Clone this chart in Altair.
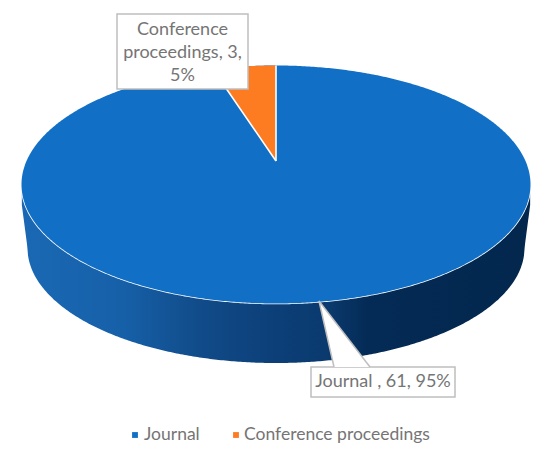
import numpy as np
import pandas as pd
import altair as alt

categories = ["Journal ", "Conference proceedings"]
legend_names = ["Journal", "Conference proceedings"]
counts = [61, 3]
shares = [95, 5]
colors = ["#1170C6", "#FD7C22"]

FONT = "Lato"
GREY = "#757575"

# page-pixel scales: data units equal pixels of the picture
xs = alt.Scale(domain=[8, 542], range=[0, 534], nice=False, zero=False)
ys = alt.Scale(domain=[8, 446], range=[0, 438], nice=False, zero=False)


def X(f="x"):
    return alt.X(f"{f}:Q", scale=xs, axis=None)


def Y(f="y"):
    return alt.Y(f"{f}:Q", scale=ys, axis=None)


# pie geometry
cx, cy, a, b = 276.0, 184.5, 254.5, 119.0      # top face
ax_low, cy_low, b_low = 248.5, 248.0, 115.0    # lower rim
apex = (276.0, 161.0)
edge_x = 213.0


def top_upper(x):
    return cy - b * np.sqrt(np.clip(1 - ((x - cx) / a) ** 2, 0, 1))


def top_lower(x):
    return cy + b * np.sqrt(np.clip(1 - ((x - cx) / a) ** 2, 0, 1))


def low_lower(x):
    inside = np.abs(x - cx) <= ax_low
    base = cy_low + b_low * np.sqrt(np.clip(1 - ((x - cx) / ax_low) ** 2, 0, 1))
    # outer flanks of the wall
    flank = cy + 18 + (np.abs(np.abs(x - cx) - a) / (a - ax_low)) * (cy_low - cy - 18)
    return np.where(inside, base, flank)


tt = np.linspace(-np.pi, 0, 361)
xe = cx + a * np.cos(tt)
face = pd.DataFrame({"x": xe, "y": top_upper(xe), "y2": top_lower(xe)})
wall_x = xe[(xe >= cx - a + 0.3) & (xe <= cx + a - 0.3)]
wall = pd.DataFrame({"x": wall_x, "y": top_lower(wall_x), "y2": low_lower(wall_x)})
rim = pd.DataFrame({"x": xe, "y": top_lower(xe)})

wx = np.linspace(edge_x, cx, 60)
edge_y = float(top_upper(np.array([edge_x]))[0])
wline = apex[1] + (wx - apex[0]) * (edge_y - apex[1]) / (edge_x - apex[0])
wedge = pd.DataFrame({"x": wx, "y": top_upper(wx), "y2": wline})

wall_fill = alt.Gradient(
    gradient="linear", x1=0, x2=1, y1=0, y2=0,
    stops=[
        alt.GradientStop(offset=0.0, color="#1A68B4"),
        alt.GradientStop(offset=0.2, color="#1660A8"),
        alt.GradientStop(offset=0.35, color="#114B89"),
        alt.GradientStop(offset=0.5, color="#0C3F78"),
        alt.GradientStop(offset=0.6, color="#0A3A6E"),
        alt.GradientStop(offset=0.68, color="#042B56"),
        alt.GradientStop(offset=1.0, color="#03274D"),
    ],
)

wall_mark = alt.Chart(wall).mark_area(fill=wall_fill).encode(x=X(), y=Y(), y2="y2:Q")
face_mark = alt.Chart(face).mark_area(color=colors[0]).encode(x=X(), y=Y(), y2="y2:Q")
wedge_mark = alt.Chart(wedge).mark_area(color=colors[1]).encode(x=X(), y=Y(), y2="y2:Q")
rim_mark = alt.Chart(rim).mark_line(color="white", strokeWidth=1.6).encode(x=X(), y=Y())

slice_edges = pd.DataFrame({
    "x": [apex[0], apex[0]], "y": [apex[1], apex[1]],
    "x2": [edge_x, cx], "y2": [edge_y, cy - b],
})
edge_mark = alt.Chart(slice_edges).mark_rule(color="white", strokeWidth=1.6).encode(
    x=X(), y=Y(), x2="x2:Q", y2="y2:Q"
)

# callouts
boxes = pd.DataFrame({"x": [117, 311], "x2": [248, 455], "y": [14, 367], "y2": [89, 397]})
box_mark = alt.Chart(boxes).mark_rect(fill="white", stroke="#BFBFBF", strokeWidth=1.5).encode(
    x=X(), x2="x2:Q", y=Y(), y2="y2:Q"
)

tip = (319.0, 301.0)
base_l, base_r, base_y = 334.0, 370.0, 367.0
px = np.array([tip[0], base_l, base_r])
pointer = pd.DataFrame({
    "x": px,
    "y": tip[1] + (px - tip[0]) * (base_y - tip[1]) / (base_r - tip[0]),
    "y2": [tip[1], base_y, base_y],
})
pointer_mark = alt.Chart(pointer).mark_area(color="white").encode(x=X(), y=Y(), y2="y2:Q")
pointer_edges = pd.DataFrame({
    "x": [tip[0], tip[0]], "y": [tip[1], tip[1]],
    "x2": [base_l, base_r], "y2": [base_y, base_y],
})
pointer_edge_mark = alt.Chart(pointer_edges).mark_rule(color="#BFBFBF", strokeWidth=1.5).encode(
    x=X(), y=Y(), x2="x2:Q", y2="y2:Q"
)

conf_lines = ["Conference", f"proceedings, {counts[1]},", f"{shares[1]}%"]
labels = pd.DataFrame({
    "x": [182.5, 182.5, 182.5, 383],
    "y": [29.5, 52.5, 76, 382],
    "t": conf_lines + [f"{categories[0]}, {counts[0]}, {shares[0]}%"],
})
label_mark = alt.Chart(labels).mark_text(
    font=FONT, fontSize=18, color=GREY, align="center", baseline="middle"
).encode(x=X(), y=Y(), text="t:N")

# legend
legend = pd.DataFrame({"name": legend_names, "x": [135, 236], "tx": [144, 244], "y": [435, 435]})
swatch = alt.Chart(legend).mark_point(shape="square", filled=True, size=34, opacity=1).encode(
    x=X(), y=Y(),
    color=alt.Color("name:N", scale=alt.Scale(domain=legend_names, range=colors), legend=None),
)
legend_text = alt.Chart(legend).mark_text(
    font=FONT, fontSize=17.5, color=GREY, align="left", baseline="middle"
).encode(x=X("tx"), y=Y(), text="name:N")

chart = alt.layer(
    wall_mark, rim_mark, face_mark, wedge_mark, edge_mark,
    box_mark, pointer_mark, pointer_edge_mark, label_mark, swatch, legend_text,
).properties(
    width=534, height=438, padding=0,
    autosize=alt.AutoSizeParams(type="none"),
    background="white",
).configure_view(stroke=None)

chart.save("out.html", embed_options={"renderer": "svg", "actions": False})
